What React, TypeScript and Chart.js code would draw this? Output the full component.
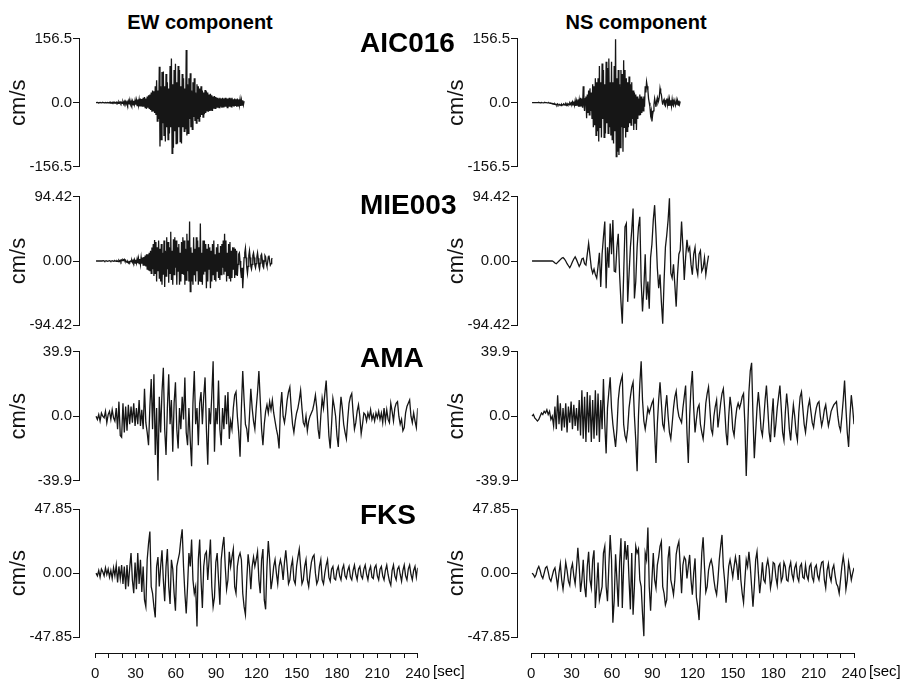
import React, { useEffect, useRef } from "react";
import { Chart, registerables } from "chart.js";

Chart.register(...registerables);

// ---------------- data (cm/s, sampled from 1 s at the step given per trace) ----------------
const START_SEC = 1;

const stations = ["AIC016", "MIE003", "AMA", "FKS"];
const componentTitles = ["EW component", "NS component"];
const yLimits = [156.5, 94.42, 39.9, 47.85];
const yDigits = [1, 2, 1, 2];
const timeTickValues = [0, 10, 20, 30, 40, 50, 60, 70, 80, 90, 100, 110, 120, 130, 140, 150, 160, 170, 180, 190, 200, 210, 220, 230, 240];
const timeTickLabels = [0, 30, 60, 90, 120, 150, 180, 210, 240];
const timeUnit = "[sec]";
const yUnit = "cm/s";

// 0.5 s samples
const aic016EW = [
  0, 0, 0.5, 0, -0.5, 0, 0.5, 0, -0.5, 0,
  0.5, 0, -0.5, 0, 0.5, -0.5, 0, 0.5, -0.5, 0,
  1, -1, 0.5, -1, 1, -0.5, 1, -1, 0.5, -1,
  1.5, -1, 1, -1.5, 2, -1, 1.5, -2, 1, -1.5,
  2, -3, 3, -2, 3, -3, 2, -4, 4, -3,
  3, -4, 5, -3, 4, -5, 5, -4, 6, -5,
  6, -7, 8, -6, 7, -9, 10, -8, 9, -10,
  12, -10, 14, -12, 10, -15, 15, -12, 18, -14,
  20, -18, 25, -22, 30, -20, 28, -25, 40, -30,
  55, -45, 30, -40, 88, -107, 40, -90, 75, -50,
  76, -80, 40, -95, 70, -60, 50, -90, 35, -75,
  90, -60, 108, -124, 45, -110, 80, -70, 95, -100,
  50, -100, 90, -60, 80, -95, 40, -100, 70, -60,
  60, -70, 35, -65, 129, -80, 45, -75, 60, -40,
  72, -60, 30, -65, 50, -35, 60, -45, 25, -50,
  45, -40, 40, -45, 35, -35, 40, -30, 30, -35,
  25, -28, 31, -25, 28, -20, 25, -22, 20, -20,
  22, -18, 18, -20, 15, -15, 16, -14, 14, -12,
  12, -12, 10, -12, 12, -10, 10, -12, 12, -10,
  10, -10, 12, -10, 10, -12, 10, -10, 12, -10,
  10, -10, 12, -8, 8, -10, 10, -8, 8, -10,
  10, -8, 8, -6, 8, -8, 6, -6, 6, -5,
  4,
];

// 0.5 s samples
const aic016NS = [
  0, 0, 0, 0, 0, 0, 0, 0, 0, 0,
  0.5, 0, -0.5, 0, 0.5, 0, 0, -0.5, 0, 0.5,
  0, 0, 0, -0.5, -0.5, 0, -1, -1.5, -1, -2,
  -2, -3, -2.5, -4, -3, -5, -4, -6, -3, -5,
  -6, -4, -5, -7, -4, -6, -5, -3, -4, -6,
  -3, -6, -2, -5, -3, -5, -1, -4, 0, -3,
  2, -5, 3, -6, 5, -8, 4, -6, 8, -10,
  6, -10, 12, -8, 10, -12, 40, -5, -20, 10,
  15, -38, 20, -25, 30, -30, 35, -20, 25, -40,
  45, -60, 40, -55, 60, -80, 50, -70, 60, -95,
  90, -60, 50, -85, 96, -40, 80, -85, 45, -75,
  100, -50, 85, -75, 108, -60, 50, -80, 100, -90,
  50, -100, 90, -70, 155, -132, 60, -120, 80, -128,
  45, -110, 80, -60, 70, -120, 104, -60, 80, -85,
  60, -70, 50, -60, 64, -50, 45, -55, 50, -40,
  30, -67, 25, -50, 20, -67, 15, -40, 10, -30,
  20, -30, 15, -25, 10, -20, 15, -10, 40, 25,
  51, 40, 30, 10, 0, -10, -30, -20, -46, -30,
  -20, -5, 10, 0, -10, 5, 12, 0, 5, 15,
  35, 25, 20, 5, -5, 5, 8, -5, -8, 5,
  10, -5, 8, -8, 8, -6, 6, -8, 8, -5,
  -8, 6, 6, -6, 6, -5, 5, -6, 5, -4,
  3,
];

// 0.5 s samples
const mie003EW = [
  0, 0, 0, 0, 0, 0, 0, 0, 0, 0,
  0, 0.5, 0, -0.5, 0, 0.5, 0, -0.5, 0, 0,
  0.5, 0, -0.5, 0, 0.5, 0, -0.5, 0, 0.5, 0,
  -0.5, 0.5, 0, -1, 1, -0.5, 1, -1, 1.5, 0.5,
  2, 1, 2.5, 0, 1, -1, -2, -1, -3, -1,
  -2, 0, -1, 1, -2, 1, -2, 2, -3, 2,
  -3, 3, -3, 4, -4, 3, -5, 5, -4, 5,
  -6, 6, -7, 8, -8, 10, -12, 10, -14, 12,
  -15, 15, -18, 20, -12, 25, -22, 31, -18, 28,
  -30, 20, -15, 30, -25, 18, -30, 25, -35, 12,
  -20, 30, -38, 15, -22, 35, -12, 28, -32, 20,
  -18, 43, -28, 15, -35, 32, -20, 35, -10, 30,
  -35, 20, -15, 25, -35, 12, -30, 28, -18, 35,
  -20, 30, -35, 18, -28, 40, -15, 30, -30, 58,
  -45, 20, -30, 12, -35, 35, -20, 18, -30, 35,
  -15, 30, -35, 20, -30, 55, -30, 12, -35, 30,
  -20, 30, -15, 25, -40, 18, -30, 25, -12, 20,
  -40, 15, -30, 25, -20, 30, -28, 10, -30, 20,
  -15, 25, -25, 12, -28, 22, -20, 25, -10, 30,
  -20, 40, -15, 30, -30, 12, -22, 25, -25, 28,
  -30, 15, -25, 20, -12, 20, -25, 18, -20, 15,
  -22, -5, 10, 12, 0, -15, -25, -10, -40, -20,
  5, 12, 19, 5, -10, -18, -8, 8, 15, 5,
  -8, -12, -5, 8, 12, 5, -6, -10, -4, 6,
  12, 4, -8, -12, -3, 8, 10, 2, -8, -10,
  0, 8, 6, -4, -8, -2, 6, 8, 0, -6,
  -4, 3, 4,
];

// 1 s samples
const mie003NS = [
  0, 0, 0, 0, 0, 0, 0, 0, 0, 0,
  0, 0, 0, 0, 0, 0, -1, -3, -4, -2,
  0, 2, 4, 5, 3, 0, -4, -7, -10, -6,
  -1, 3, 6, 2, -3, -8, -4, 3, 4, -4,
  -6, 10, 26, 8, -10, -18, -12, -20, -25, -8,
  12, -38, 10, 35, 58, -40, 20, -10, 55, 10,
  60, -15, -16, 20, 40, -20, -60, -92, -20, 50,
  55, -60, -20, 20, 45, 77, -55, -30, 20, 50,
  65, -30, -74, -40, 10, -57, -30, -70, 5, 25,
  60, 82, 40, -10, -40, -20, -60, -92, -30, 20,
  38, 60, 92, -18, -25, -5, -35, -67, -20, 10,
  16, 58, 20, -28, 5, 31, 15, 20, -5, -20,
  10, 20, -10, -20, 10, 15, -15, -10, 5, -20, -5, 8,
];

// 1 s samples
const amaEW = [
  0, -2, 1, -3, 2, 0, -1, 3, -4, 1,
  3, -2, 4, -1, -3, 5, -8, 9, -12, -13,
  8, -10, 6, -9, 7, -5, 6, -4, 8, -6,
  5, -5, 10, -6, 4, -8, 17, -4, -10, -18,
  6, 23, -8, 26, -24, 5, -40, 12, -10, 15,
  30, -8, -24, 5, 26, -5, 10, -22, 8, 21,
  -8, -20, 5, -8, 12, -2, 24, -10, -18, 5,
  -15, -31, 8, 28, -5, 5, -18, 8, 15, -5,
  12, 24, -8, -30, 5, -5, 13, 34, -22, 5,
  -5, 22, -8, -18, 5, -8, 13, -5, 15, -14,
  -3, -8, 5, 13, 15, 0, -10, -25, 5, 28,
  10, -5, -8, -16, 0, 17, 5, -3, -8, 5,
  15, 28, 10, -8, -18, -5, 3, 7, 2, 9,
  4, 10, 2, -3, -8, -12, -20, 5, 15, 0,
  -4, 2, 10, 15, 18, 5, -5, -10, -3, 2,
  5, 10, 16, 5, -4, -6, 0, -9, -3, 0,
  2, 4, 8, 13, 5, -8, -14, 0, 11, 5,
  14, 22, 5, -12, -20, -5, 11, 6, 0, -12,
  -19, 0, 12, 5, -5, -10, -14, -2, 8, 12,
  14, 2, -8, -4, 3, 7, 0, -11, -5, 2,
  1, -3, 2, -1, 4, -2, 1, -3, 2, -1,
  3, -2, 2, -4, 5, -3, 4, -2, -4, 8,
  3, -3, 5, 8, 9, 0, -5, -2, -9, -7,
  2, 6, 8, 10, 0, -4, 2, -3, -7, 5,
];

// 1 s samples
const amaNS = [
  0, 1, -1, -2, -3, -2, 0, 2, 1, 3,
  2, 4, 1, 3, -2, 0, -6, 6, -8, 13,
  -5, 8, -9, 5, -7, 8, -10, 6, -4, 9,
  -8, 7, -6, 5, -9, 10, -12, 16, -14, 12,
  -16, 15, -10, 13, -16, 10, -14, 16, -12, 14,
  -16, 10, -8, 23, -5, -23, 5, 15, 24, 5,
  -5, -12, -19, -8, 10, 18, 22, 25, -5, -12,
  -15, -8, 5, 12, 18, 21, 0, -15, -34, 0,
  20, 34, 10, -3, -8, -2, 5, 2, 5, 8,
  10, -10, -29, -5, 10, 21, 8, -5, -8, 5,
  13, 0, -10, -14, -5, 5, 12, 15.5, 5, 0,
  -2, -4, 5, 12, 19, -10, -29, 0, 18, 28,
  5, -10, -2, 5, 7, -5, -10, -14, -5, 8,
  14, 18, 5, -8, -11, 0, 6, 10, -7, 0,
  8, 14, 17, 5, -10, -18, 0, 12, 5, -8,
  -12, -2, 5, 8, 5, 8, 12, 14, -5, -37,
  -10, 15, 28, 33, 0, -26, -10, 5, 15, 5,
  -8, -12, -2, 10, 19, 5, -10, -16, 0, 11,
  -13, -5, 5, 12, 19, 5, -10, -15, 2, 14,
  5, -8, -15, -3, 7, 0, -10, -15, 2, 12,
  15, 5, -5, -10, -2, 6, 10, 3, -4, -7,
  0, 5, 8, 9, 0, -6, -2, 4, 7, 0,
  -6, -2, 3, 5, 7, 8, 9, 0, -6, -9,
  0, 10, 22, 5, -10, -19, 0, 13, 5, -5,
];

// 1 s samples
const fksEW = [
  0, -2, 2, -3, 3, 1, -2, 4, -1, 3,
  -3, 2, -4, 4, -2, 6, -7, 5, -4, 6,
  -8, 5, -12, 6, -10, 4, 15, -5, -15, 8,
  -12, 15, -8, 10, -14, 5, -20, -25, 10, 22,
  31, -10, -15, -25, -33, 5, 12, -10, 5, 17,
  -5, -21, 5, 18, -10, -23, 10, 3, -15, -28,
  5, 10, 15, 25, 32.7, 5, -15, -30, -10, 15,
  5, 25, -5, -15, -10, -39.7, 10, 25, -5, -26,
  5, 14, 16, -5, 10, 25, -10, -25, -18, 8,
  15, -5, -23.6, 10, 20, 27, 5, -12, -5, 16,
  5, 12, 18, -10, -15, 5, 12, 15, 10, -15,
  -25, -31, -5, 14, 5, -12, 5, 12, 5, 10,
  16, -5, -15, 10, 18, -20, -27, 5, 24, 10,
  -12, -5, 5, 10, 0, -8, 5, 10, 5, -5,
  8, 17, 5, -8, -5, 5, 10, -5, -8, 5,
  12, 18, 5, -8, -5, 5, 10, -5, -10, 0,
  8, 12, 13.6, 0, -8, -5, 5, 10, -5, -8,
  0, 6, 10, -3, -6, 3, 5, -4, -5, 2,
  5, -2, -5, 3, 6, -2, -4, 2, 5, -3,
  -5, 2, 6, -1, -5, 3, 5, -2, -4, 3,
  6, -1, -5, 2, 5, -3, -4, 4, 6, -2,
  -5, 3, 5, -2, -5, 2, 6, -1, -6, -9,
  2, 6, -2, -5, 3, 5, -1, -6, 2, 6,
  -2, -5, 3, 6, -1, -5, 2, 5, -3, 4,
];

// 1 s samples
const fksNS = [
  0, -1, -3, -1, 3, 5, 2, -2, -4, 0,
  4, 5, 1, -4, -6, -2, 2, 4, -3, -10,
  0, 7, -5, -12, -3, 8, 2, -6, -9, 3,
  7, -2, -8, 4, 19, 5, -14, -5, 10, -10,
  -18, 5, 16, -5, -11, 10, 17, -26, -10, 8,
  -20, -15, -10, 15, 20, -10, -21, 5, 28.5, 10,
  -37, -20, 14, -5, -25, 8, 26, -26, 5, 24,
  10, 21, -5, -27, 15, -31, -10, 20, 15, 18,
  -5, -10, -30, -47, 15, 10, 34, -10, -28, -5,
  15, -5, -11, 6, 12, 20, 23.6, -10, -15, -23.6,
  -20, 11, 20, -5, -10, -16, -5, 14, 20, 23.6,
  5, -15, 6, 12, 10, -4, 5, 13.6, -5, -16,
  0, 11, -18, -25, -35, -10, 15, 26.8, 5, -14,
  -10, 2, 7, 10, 5, -5, -12, -16, -5, 10,
  20, 28.5, 5, -6, -22, -10, 5, 10, 4, -3,
  5, 12, 6, -5, 13.6, -5, -15, -22, -5, 10,
  5, 16, 5, -10, -25, -10, 10, 16, 0, -15,
  -5, 8, -5, -7, 5, 10, 3, -11, -5, 8,
  7, -3, -9, 5, 7, -6, -3, 8, 5, -5,
  -6, 4, 8, -1, -5, 4, 7, -3, -6, 5,
  7, -3, -4, 6, -2, -5, 5, 7, -3, -6,
  4, 6, -2, -5, 3, 8, 8.7, -5, -11, 2,
  7, -2, -6, 3, 6, -2, -8, -10, -15, -5,
  5, 12.4, 5, -12, -5, 8, 2, -5, 0, 4,
];

const traces = [
  [aic016EW, aic016NS],
  [mie003EW, mie003NS],
  [amaEW, amaNS],
  [fksEW, fksNS],
];
const traceSteps = [
  [0.5, 0.5],
  [0.5, 1],
  [1, 1],
  [1, 1],
];

// ---------------- layout (pixels) ----------------
const FONT = '"Liberation Sans", Arial, Helvetica, sans-serif';
const INK = "#111111";
const TRACE = "#161616";
const COLS = [
  { axisX: 79, x0: 94.7, x240: 417.7, canvasLeft: 0, title: 200, unitX: 433 },
  { axisX: 517, x0: 530.7, x240: 854, canvasLeft: 438, title: 636, unitX: 869 },
];
const ROWS = [
  { top: 38.7, bottom: 166.7, label: 43 },
  { top: 196.7, bottom: 325.3, label: 205 },
  { top: 351.7, bottom: 480.7, label: 357.5 },
  { top: 509, bottom: 637.3, label: 515 },
];
const AXIS_LINE_Y = 653;

function TracePanel({ values, step, row, col }: { values: number[]; step: number; row: number; col: number }) {
  const ref = useRef<HTMLCanvasElement | null>(null);
  const c = COLS[col];
  const r = ROWS[row];
  const canvasTop = Math.round(r.top) - 12;
  const canvasHeight = Math.round(r.bottom) + 12 - canvasTop;
  const canvasWidth = Math.ceil(c.x240) + 10 - c.canvasLeft;
  const pxPerSec = (c.x240 - c.x0) / 240;
  const xMin = -(c.x0 - c.axisX) / pxPerSec;
  const lim = yLimits[row];
  const digits = yDigits[row];

  useEffect(() => {
    if (!ref.current) return;
    const pts = values.map((v, i) => ({ x: START_SEC + i * step, y: v }));
    const chart = new Chart(ref.current, {
      type: "line",
      data: {
        datasets: [
          {
            data: pts,
            borderColor: TRACE,
            borderWidth: 1.3,
            pointRadius: 0,
            tension: 0,
            fill: false,
          },
        ],
      },
      options: {
        animation: false,
        responsive: false,
        maintainAspectRatio: false,
        events: [],
        layout: {
          padding: {
            top: r.top - canvasTop,
            bottom: canvasTop + canvasHeight - r.bottom,
            left: 0,
            right: c.canvasLeft + canvasWidth - c.x240,
          },
        },
        plugins: { legend: { display: false }, tooltip: { enabled: false } },
        scales: {
          x: { type: "linear", min: xMin, max: 240, display: false },
          y: {
            type: "linear",
            min: -lim,
            max: lim,
            afterBuildTicks: (s: any) => {
              s.ticks = [{ value: -lim }, { value: 0 }, { value: lim }];
            },
            afterFit: (s: any) => {
              s.width = c.axisX - c.canvasLeft;
            },
            ticks: {
              callback: (v: any) => Number(v).toFixed(digits),
              font: { family: FONT, size: 15 },
              color: INK,
              padding: 1,
            },
            grid: { drawOnChartArea: false, drawTicks: true, tickLength: 6, color: INK, lineWidth: 1 },
            border: { display: true, color: INK, width: 1 },
            title: {
              display: true,
              text: yUnit,
              font: { family: FONT, size: 22 },
              color: INK,
              padding: { top: 6, bottom: 0 },
            },
          },
        },
      } as any,
    });
    return () => chart.destroy();
  }, [values, step, row, col]);

  return (
    <canvas
      ref={ref}
      width={canvasWidth}
      height={canvasHeight}
      style={{ position: "absolute", left: c.canvasLeft, top: canvasTop, width: canvasWidth, height: canvasHeight }}
    />
  );
}

function TimeAxis({ col }: { col: number }) {
  const ref = useRef<HTMLCanvasElement | null>(null);
  const c = COLS[col];
  const canvasLeft = Math.floor(c.x0) - 10;
  const canvasWidth = Math.ceil(c.x240) + 22 - canvasLeft;
  const canvasTop = AXIS_LINE_Y - 10;
  const canvasHeight = 39;
  const axisHeight = canvasTop + canvasHeight - AXIS_LINE_Y;

  useEffect(() => {
    if (!ref.current) return;
    const chart = new Chart(ref.current, {
      type: "line",
      data: { datasets: [] },
      options: {
        animation: false,
        responsive: false,
        maintainAspectRatio: false,
        events: [],
        layout: {
          padding: {
            top: 0,
            bottom: 0,
            left: c.x0 - canvasLeft,
            right: canvasLeft + canvasWidth - c.x240,
          },
        },
        plugins: { legend: { display: false }, tooltip: { enabled: false } },
        scales: {
          x: {
            type: "linear",
            position: "bottom",
            min: 0,
            max: 240,
            afterBuildTicks: (s: any) => {
              s.ticks = timeTickValues.map((v) => ({ value: v }));
            },
            afterFit: (s: any) => {
              s.height = axisHeight;
            },
            ticks: {
              autoSkip: false,
              maxRotation: 0,
              callback: (v: any) => (timeTickLabels.includes(Number(v)) ? String(v) : ""),
              font: { family: FONT, size: 15 },
              color: INK,
              padding: 7,
            },
            grid: { drawOnChartArea: false, drawTicks: true, tickLength: 5, color: INK, lineWidth: 1 },
            border: { display: true, color: INK, width: 1 },
          },
          y: { display: false, min: 0, max: 1 },
        },
      } as any,
    });
    return () => chart.destroy();
  }, [col]);

  return (
    <canvas
      ref={ref}
      width={canvasWidth}
      height={canvasHeight}
      style={{ position: "absolute", left: canvasLeft, top: canvasTop, width: canvasWidth, height: canvasHeight }}
    />
  );
}

function Label({ text, x, capY, size, bold, align }: { text: string; x: number; capY: number; size: number; bold?: boolean; align: "left" | "center" }) {
  const w = 240;
  const left = align === "center" ? x - w / 2 : x;
  return (
    <div
      style={{
        position: "absolute",
        left,
        top: capY - 0.4885 * size,
        width: w,
        textAlign: align,
        fontFamily: FONT,
        fontSize: size,
        lineHeight: `${size}px`,
        fontWeight: bold ? "bold" : "normal",
        color: "#000",
        whiteSpace: "nowrap",
      }}
    >
      {text}
    </div>
  );
}

export default function App() {
  return (
    <div style={{ position: "absolute", left: 0, top: 0, width: 907, height: 682, background: "#fff", overflow: "hidden" }}>
      {componentTitles.map((t, i) => (
        <Label key={t} text={t} x={COLS[i].title} capY={21.7} size={20} bold align="center" />
      ))}
      {traces.map((pair, row) =>
        pair.map((vals, col) => (
          <TracePanel key={`${row}-${col}`} values={vals} step={traceSteps[row][col]} row={row} col={col} />
        ))
      )}
      {stations.map((s, row) => (
        <Label key={s} text={s} x={360} capY={ROWS[row].label} size={28} bold align="left" />
      ))}
      <TimeAxis col={0} />
      <TimeAxis col={1} />
      {COLS.map((c, i) => (
        <Label key={`unit-${i}`} text={timeUnit} x={c.unitX} capY={670} size={15} align="left" />
      ))}
    </div>
  );
}
